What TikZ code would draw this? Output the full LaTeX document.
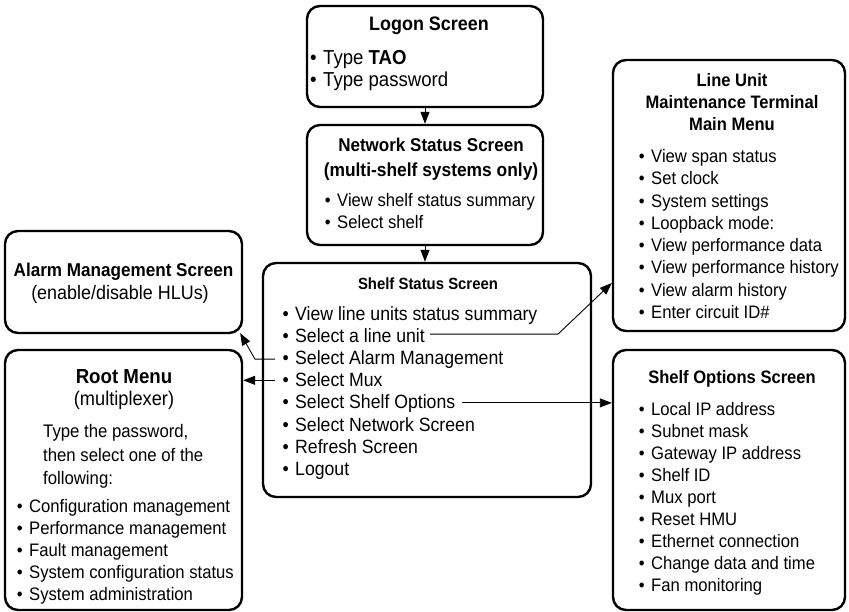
\documentclass[tikz,border=0pt]{standalone}
\usepackage{fontspec}
\setmainfont[FakeStretch=0.92]{Liberation Sans}
\usetikzlibrary{arrows.meta}
\tikzset{
  box/.style={draw,line width=2.4pt,rounded corners=13pt,inner sep=0pt},
  ttl/.style={anchor=base,inner sep=0pt,font=\fontsize{#1}{24}\selectfont\bfseries},
  ttl/.default=18,
  txt/.style={anchor=base,inner sep=0pt,font=\fontsize{#1}{24}\selectfont},
  txt/.default=18,
  ltxt/.style={anchor=base west,inner sep=0pt,font=\fontsize{#1}{24}\selectfont},
  ltxt/.default=18,
  item/.style={anchor=base west,inner sep=0pt,font=\fontsize{#1}{24}\selectfont,
    execute at begin node={\llap{\textbullet\hspace{6.5pt}}}},
  item/.default=18.1,
  conn/.style={line width=0.9pt,-{Triangle[length=12pt,width=9pt]}},
}
\begin{document}
\begin{tikzpicture}[x=1pt,y=-1pt]
\useasboundingbox (0,0) rectangle (849,612);

% Logon
\node[box,minimum width=236pt,minimum height=101pt] (logon) at (425,56.5) {};
\node[ttl=19.5] (logonT) at (429,31) {Logon Screen};
\node[item=20.2] (lo1) at (323,65) {Type \textbf{TAO}};
\node[item=20.2] (lo2) at (323,87) {Type password};

% Network
\node[box,minimum width=236pt,minimum height=120pt] (network) at (425,185) {};
\node[ttl=18.5] (netT1) at (431,152) {Network Status Screen};
\node[ttl=18.9] (netT2) at (431,177) {(multi-shelf systems only)};
\node[item] (ne1) at (337,207) {View shelf status summary};
\node[item] (ne2) at (337,229) {Select shelf};

% Shelf status
\node[box,minimum width=328pt,minimum height=234pt] (shelf) at (427,380) {};
\node[ttl=16.2] (shT) at (428,290) {Shelf Status Screen};
\node[item=19.2] (ss1) at (295,320.5) {View line units status summary};
\node[item=19.2] (ss2) at (295,342.6) {Select a line unit};
\node[item=19.2] (ss3) at (295,364.7) {Select Alarm Management};
\node[item=19.2] (ss4) at (295,386.8) {Select Mux};
\node[item=19.2] (ss5) at (295,408.9) {Select Shelf Options};
\node[item=19.2] (ss6) at (295,431.0) {Select Network Screen};
\node[item=19.2] (ss7) at (295,453.1) {Refresh Screen};
\node[item=19.2] (ss8) at (295,475.2) {Logout};

% Alarm
\node[box,minimum width=237pt,minimum height=102pt] (alarm) at (123.5,282) {};
\node[ttl=18.6] (alT) at (123.5,277) {Alarm Management Screen};
\node[txt=19.5] (alS) at (120,300) {(enable/disable HLUs)};

% Root
\node[box,minimum width=237pt,minimum height=260pt] (root) at (123.5,480) {};
\node[ttl=20.3] (rtT) at (124,383) {Root Menu};
\node[txt=19.8] (rtS) at (124,406) {(multiplexer)};
\node[ltxt=18.2] (rtA) at (43,437) {Type the password,};
\node[ltxt=18.2] (rtB) at (43,461) {then select one of the};
\node[ltxt=18.2] (rtC) at (43,484) {following:};
\node[item] (rt1) at (29,512) {Configuration management};
\node[item] (rt2) at (29,534) {Performance management};
\node[item] (rt3) at (29,556) {Fault management};
\node[item] (rt4) at (29,578) {System configuration status};
\node[item] (rt5) at (29,600) {System administration};

% Line unit
\node[box,minimum width=232pt,minimum height=271pt] (lineunit) at (729,195.5) {};
\node[ttl=18] (luT1) at (732,87) {Line Unit};
\node[ttl=18] (luT2) at (732,109) {Maintenance Terminal};
\node[ttl=18] (luT3) at (732,131) {Main Menu};
\node[item] (lu1) at (651,162.5) {View span status};
\node[item] (lu2) at (651,184.8) {Set clock};
\node[item] (lu3) at (651,207.1) {System settings};
\node[item] (lu4) at (651,229.4) {Loopback mode:};
\node[item] (lu5) at (651,251.7) {View performance data};
\node[item] (lu6) at (651,274.0) {View performance history};
\node[item] (lu7) at (651,296.3) {View alarm history};
\node[item] (lu8) at (651,318.6) {Enter circuit ID\#};

% Shelf options
\node[box,minimum width=232pt,minimum height=260pt] (shelfopt) at (729,480) {};
\node[ttl=18] (soT) at (732,383) {Shelf Options Screen};
\node[item] (so1) at (651,415.0) {Local IP address};
\node[item] (so2) at (651,437.1) {Subnet mask};
\node[item] (so3) at (651,459.2) {Gateway IP address};
\node[item] (so4) at (651,481.3) {Shelf ID};
\node[item] (so5) at (651,503.4) {Mux port};
\node[item] (so6) at (651,525.5) {Reset HMU};
\node[item] (so7) at (651,547.6) {Ethernet connection};
\node[item] (so8) at (651,569.7) {Change data and time};
\node[item] (so9) at (651,591.8) {Fan monitoring};

% Connectors
\draw[conn] (logon) -- (network);
\draw[conn] (network.south) -- (network.south |- shelf.north);
\draw[conn] ([xshift=5pt,yshift=8.5pt]ss2.base east) coordinate (lus) -- (lus -| 558,0) -- ([yshift=-87.5pt]lineunit.west);
\draw[conn] ([xshift=-20pt,yshift=5.5pt]ss3.base west) -- ++(-20,0) -- ([shift={(-3pt,1pt)}]alarm.south east);
\draw[conn] ([xshift=-20pt,yshift=6.5pt]ss4.base west) coordinate (muxs) -- (muxs -| root.east);
\draw[conn] ([xshift=7pt,yshift=6pt]ss5.base east) coordinate (sos) -- (sos -| shelfopt.west);
\end{tikzpicture}
\end{document}
